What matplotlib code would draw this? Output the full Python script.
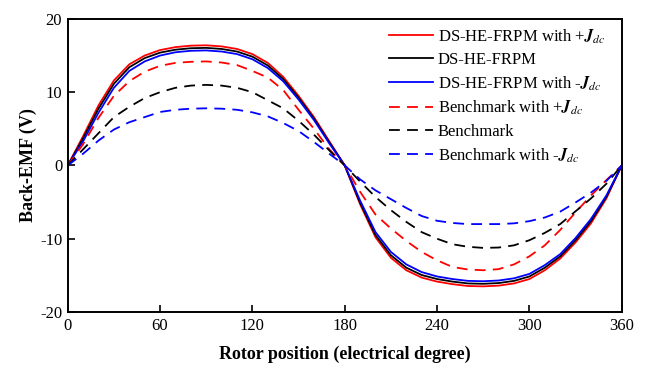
import matplotlib
matplotlib.use("Agg")
import matplotlib.pyplot as plt
import numpy as np

plt.rcParams["font.family"] = ["Liberation Serif", "DejaVu Serif"]
plt.rcParams["mathtext.fontset"] = "stix"
plt.rcParams["axes.unicode_minus"] = False

# rotor position (electrical degree)
position = list(range(0, 361, 10))

# back-EMF (V)
ds_plus = [0, 4.0, 8.2, 11.6, 13.8, 15.0, 15.75, 16.15, 16.35, 16.4,
           16.25, 15.9, 15.2, 14.0, 12.1, 9.5, 6.6, 3.3, 0,
           -5.3, -9.8, -12.6, -14.3, -15.3, -15.85, -16.2, -16.45, -16.5,
           -16.4, -16.1, -15.5, -14.3, -12.7, -10.5, -7.9, -4.5, 0]
ds = [0, 3.7, 7.75, 11.15, 13.4, 14.65, 15.4, 15.8, 16.0, 16.05,
      15.9, 15.55, 14.85, 13.65, 11.8, 9.25, 6.4, 3.15, 0,
      -5.1, -9.5, -12.25, -13.95, -14.95, -15.5, -15.85, -16.1, -16.15,
      -16.05, -15.75, -15.15, -13.95, -12.4, -10.2, -7.6, -4.3, 0]
ds_minus = [0, 3.3, 7.2, 10.6, 12.9, 14.2, 15.0, 15.45, 15.65, 15.7,
            15.55, 15.2, 14.5, 13.3, 11.5, 9.0, 6.2, 3.0, 0,
            -4.8, -9.1, -11.8, -13.5, -14.55, -15.15, -15.5, -15.75, -15.8,
            -15.7, -15.4, -14.8, -13.6, -12.1, -9.9, -7.3, -4.1, 0]
bm_plus = [0, 2.9, 6.5, 9.5, 11.5, 12.8, 13.6, 14.0, 14.15, 14.2,
           14.05, 13.7, 12.9, 12.0, 10.3, 7.6, 5.0, 2.2, 0,
           -3.6, -6.7, -8.6, -10.3, -11.8, -12.95, -13.85, -14.2, -14.3,
           -14.15, -13.5, -12.4, -10.9, -8.8, -6.4, -4.1, -2.0, 0]
bm = [0, 2.2, 4.4, 6.6, 8.0, 9.2, 10.0, 10.6, 10.9, 11.0,
      10.9, 10.6, 10.0, 8.9, 7.8, 6.1, 4.2, 2.05, 0,
      -2.2, -4.3, -6.1, -7.7, -9.1, -10.0, -10.75, -11.1, -11.25,
      -11.2, -10.9, -10.2, -9.2, -8.0, -6.25, -4.5, -2.5, 0]
bm_minus = [0, 1.6, 3.4, 4.9, 5.9, 6.6, 7.3, 7.6, 7.75, 7.8,
            7.75, 7.6, 7.25, 6.7, 5.8, 4.7, 3.2, 1.6, 0,
            -1.9, -3.4, -4.6, -5.8, -6.9, -7.55, -7.85, -8.0, -8.0,
            -8.0, -7.9, -7.6, -7.1, -6.3, -5.05, -3.7, -2.1, 0]

x_ticks = [0, 60, 120, 180, 240, 300, 360]
y_ticks = [-20, -10, 0, 10, 20]

fig = plt.figure(figsize=(6.48, 3.71), dpi=100)
ax = fig.add_axes([0.1045, 0.159, 0.855, 0.79])

dash = (6, 4)
ax.plot(position, ds_plus, color="#ff0000", lw=1.3,
        label=r"DS-HE-FRPM with +$\mathbfit{J}_{dc}$")
ax.plot(position, ds, color="black", lw=1.3, label="DS-HE-FRPM")
ax.plot(position, ds_minus, color="#0000ff", lw=1.3,
        label=r"DS-HE-FRPM with -$\mathbfit{J}_{dc}$")
ax.plot(position, bm_plus, color="#ff0000", lw=1.3, dashes=dash,
        label=r"Benchmark with +$\mathbfit{J}_{dc}$")
ax.plot(position, bm, color="black", lw=1.3, dashes=dash, label="Benchmark")
ax.plot(position, bm_minus, color="#0000ff", lw=1.3, dashes=dash,
        label=r"Benchmark with -$\mathbfit{J}_{dc}$")

ax.set_xlim(0, 360)
ax.set_ylim(-20, 20)
ax.set_xticks(x_ticks)
ax.set_yticks(y_ticks)
ax.tick_params(direction="in", labelsize=12, width=1.2, length=5, pad=4)
for s in ax.spines.values():
    s.set_linewidth(1.4)

ax.set_xlabel("Rotor position (electrical degree)", fontsize=13, fontweight="bold", labelpad=9)
ax.set_ylabel("Back-EMF (V)", fontsize=13, fontweight="bold", labelpad=2)

ax.legend(loc="upper right", frameon=False, fontsize=12, handlelength=2.6,
          handletextpad=0.3, labelspacing=0.38, borderaxespad=0.1,
          bbox_to_anchor=(0.985, 1.0))

fig.savefig("out.png", dpi=100)
